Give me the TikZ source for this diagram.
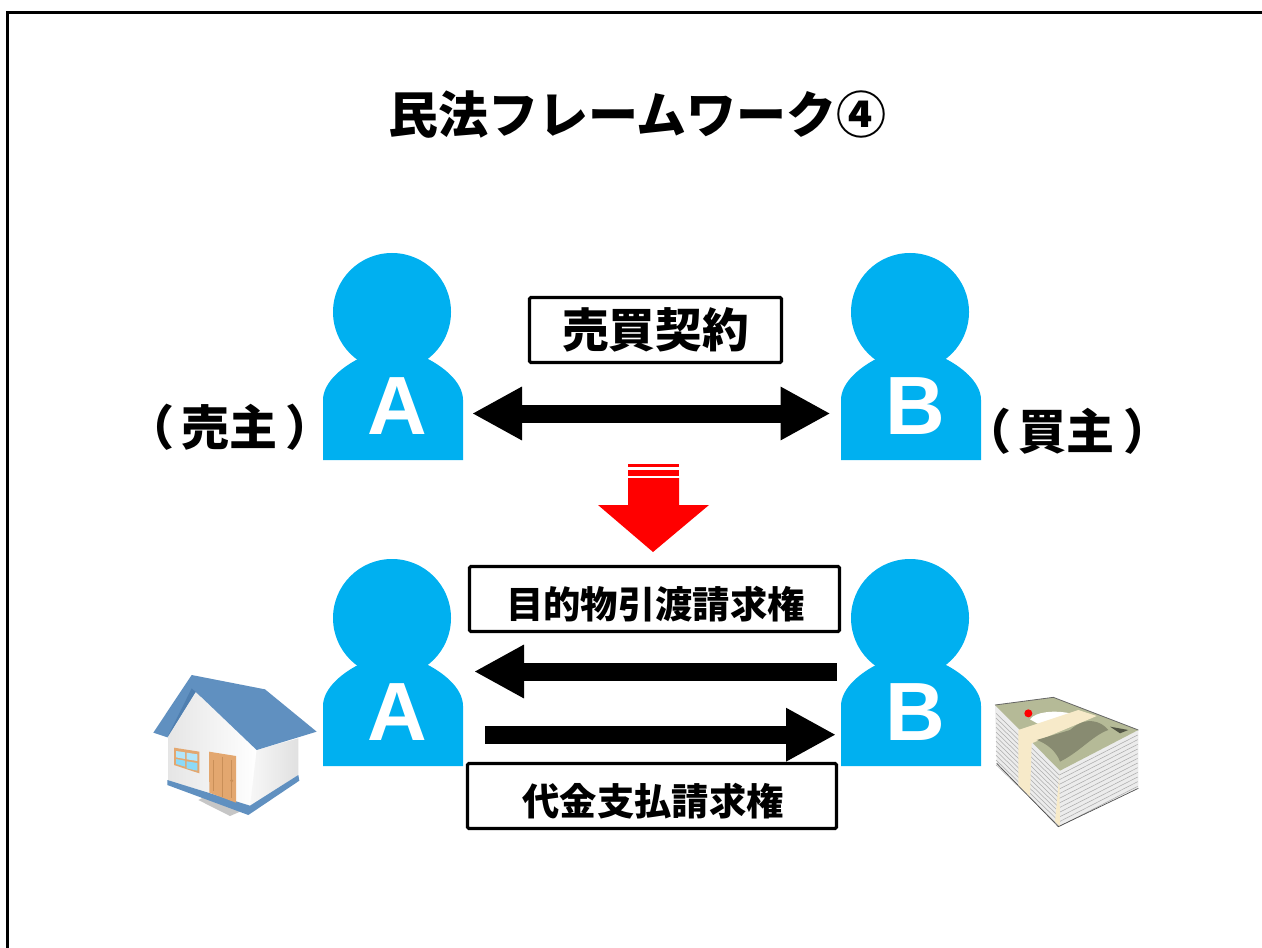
\documentclass[tikz,border=0pt]{standalone}
\usepackage{fontspec}
\usetikzlibrary{arrows.meta,calc}
\newfontfamily\cjk{Noto Sans CJK JP}[BoldFont={Noto Sans CJK JP Black}]
\setsansfont{Liberation Sans}
\definecolor{personblue}{HTML}{00B0F0}
\definecolor{roofblue}{HTML}{6090C0}
\definecolor{roofdark}{HTML}{4F7FB0}
\definecolor{doorcol}{HTML}{E3A76F}
\definecolor{doordark}{HTML}{C98F58}
\definecolor{bandcol}{HTML}{F7EAC9}
\definecolor{billcol}{HTML}{B5BA97}
\begin{document}
\begin{tikzpicture}[x=0.75pt,y=-0.75pt,
  lbl/.style={font=\cjk\bfseries\fontsize{#1}{#1}\selectfont,inner sep=0pt},
  boxed/.style={draw=black,line width=2.4pt,fill=white,inner sep=0pt,anchor=center,rounded corners=1pt},
  letter/.style={text=white,font=\sffamily\bfseries\fontsize{62}{62}\selectfont,inner sep=0pt},
  blockarrow/.style={line width=13.5pt,draw=black}]
\useasboundingbox (0,0) rectangle (1262,948);
\fill[white] (0,0) rectangle (1262,948);
\path[draw=black,line width=2.25pt] (1270,13) -- (7.5,13) -- (7.5,955);
\node[lbl=37.5] (title) at (637.5,115) {民法フレームワーク④};
\newcommand{\person}[3]{%
  \begin{scope}[shift={(#1,#2)}]
  \fill[personblue] (-1,-88) circle[radius=59];
  \fill[personblue] (-70,60) -- (-70,0) .. controls (-70,-18) and (-50,-34) .. (-31,-43) -- (31,-43) .. controls (50,-34) and (70,-18) .. (70,0) -- (70,60) -- cycle;
  \end{scope}
  \node[letter] at (#1+4,#2+6) {#3};}
\person{393}{400}{A}
\person{911}{400}{B}
\person{393}{706}{A}
\person{911}{706}{B}
\coordinate (al) at (472,413.5);
\coordinate (ar) at (830.5,413.5);
\draw[blockarrow,{Triangle[length=37.5pt,width=37.5pt]}-{Triangle[length=37.5pt,width=37.5pt]}] (al) -- (ar);
\node[boxed,minimum width=189pt,minimum height=48.75pt] (contract) at (655.5,330) {};
\node[lbl=35] at (contract) {売買契約};
\node[lbl=36] (seller) at (230,427) {（\kern6pt 売主\kern6pt ）};
\node[lbl=36] (buyer) at (1067,431) {（\kern6pt 買主\kern6pt ）};
% red arrow
\fill[red] (628,478) -- (679,478) -- (679,505) -- (709,505) -- (653,552) -- (598,505) -- (628,505) -- cycle;
\fill[red] (628,464) rectangle (679,467.3);
\fill[red] (628,470) rectangle (679,475.7);
% lower
\node[boxed,minimum width=277.5pt,minimum height=48.75pt] (claim1) at (654.5,599) {};
\node[lbl=28] at ($(claim1)+(1,5)$) {目的物引渡請求権};
\node[boxed,minimum width=276.75pt,minimum height=48.75pt] (claim2) at (652,796) {};
\node[lbl=28] at ($(claim2)+(1,5)$) {代金支払請求権};
\coordinate (b1s) at (837,671.5);
\coordinate (b1e) at (474,671.5);
\coordinate (b2s) at (485,734.7);
\coordinate (b2e) at (836,734.7);
\draw[blockarrow,-{Triangle[length=37.5pt,width=37.5pt]}] (b1s) -- (b1e);
\draw[blockarrow,-{Triangle[length=37.5pt,width=37.5pt]}] (b2s) -- (b2e);
% house
\begin{scope}[shift={(130,660)},x=0.25pt,y=-0.25pt]
\fill[gray!45] (205,420) -- (235,405) -- (330,455) -- (300,468) -- cycle;
\shade[left color=white!90!black,right color=white] (115,205) -- (197,95) -- (380,270) -- (360,440) -- (115,365) -- cycle;
\shade[left color=white!97!black,right color=white!88!black] (380,270) -- (505,235) -- (505,345) -- (360,440) -- cycle;
\fill[roofblue] (112,360) -- (360,437) -- (505,345) -- (508,362) -- (355,465) -- (112,375) -- cycle;
\fill[roofblue] (70,218) -- (185,45) -- (405,88) -- (560,215) -- (380,270) -- (197,95) -- (112,232) -- cycle;
\fill[roofdark] (112,232) -- (197,95) -- (212,110) -- (185,85) -- cycle;
\fill[doorcol] (237,275) -- (318,288) -- (318,428) -- (238,398) -- cycle;
\draw[doordark,line width=0.5pt] (278,290) -- (278,410) (250,300) -- (250,392) (305,300) -- (305,415);
\fill[doordark] (305,362) circle[radius=5];
\fill[doorcol] (132,263) -- (208,275) -- (208,340) -- (132,315) -- cycle;
\fill[cyan!30] (138,273) -- (165,277) -- (165,297) -- (138,292) -- cycle;
\fill[cyan!30] (170,278) -- (202,283) -- (202,303) -- (170,298) -- cycle;
\fill[cyan!45] (138,297) -- (165,302) -- (165,320) -- (138,312) -- cycle;
\fill[cyan!45] (170,304) -- (202,309) -- (202,332) -- (170,325) -- cycle;
\end{scope}
% money
\begin{scope}[shift={(980,680)},x=0.25pt,y=-0.25pt]
\fill[gray!15] (45,75) -- (50,250) -- (235,440) -- (475,325) -- (475,150) -- (240,270) -- cycle;
\foreach \k in {0,14,...,154}{
  \draw[gray!65,line width=0.4pt] (48,{100+\k}) -- (238,{285+\k}) -- (473,{165+\k});}
\fill[bandcol] (225,425) -- (238,285) -- (240,440) -- cycle;
\draw[black!70,line width=0.5pt] (50,250) -- (235,440) -- (475,325);
\fill[billcol] (45,75) -- (220,52) -- (475,150) -- (240,272) -- cycle;
\draw[black!60,line width=0.6pt] (45,75) -- (220,52) -- (475,150);
\fill[white] (150,118) .. controls (165,95) and (225,90) .. (270,100) -- (175,132) -- cycle;
\fill[red] (145,100) circle[radius=12];
\fill[bandcol] (115,150) -- (295,90) -- (350,108) -- (155,190) -- (150,350) -- (115,315) -- cycle;
\fill[billcol!75!black] (270,150) .. controls (320,105) and (365,125) .. (385,150) .. controls (340,165) and (300,215) .. (240,245) .. controls (230,215) and (200,190) .. (170,180) -- cycle;
\fill[billcol!45!black] (390,140) -- (445,150) -- (420,160) -- cycle;
\end{scope}
\end{tikzpicture}
\end{document}
